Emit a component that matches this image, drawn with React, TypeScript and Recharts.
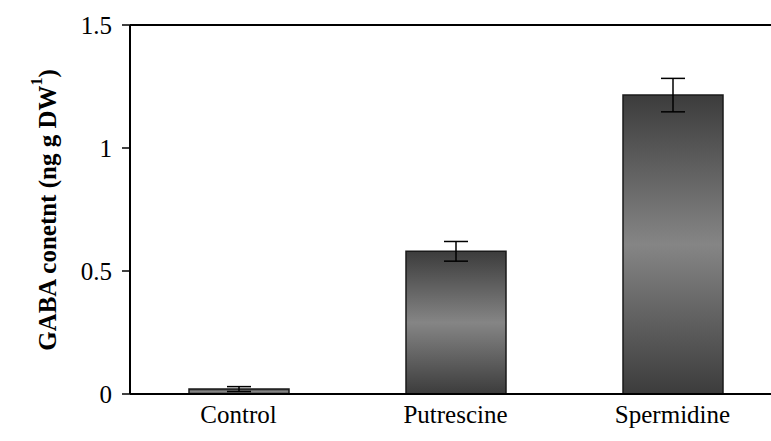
import React from 'react';
import { BarChart, Bar, XAxis, YAxis, ErrorBar, ReferenceLine } from 'recharts';

const categories = ['Control', 'Putrescine', 'Spermidine'];
const gabaValues = [0.02, 0.58, 1.215];
const gabaErrors = [0.01, 0.04, 0.068];
const yTicks = [0, 0.5, 1, 1.5];

const data = categories.map((name, i) => ({ name, value: gabaValues[i], err: gabaErrors[i] }));

const FONT = '"Liberation Serif", "Times New Roman", serif';

const YLabel = () => (
  <text
    x={47}
    y={210}
    transform="rotate(-90 47 210)"
    textAnchor="middle"
    dominantBaseline="central"
    fontFamily={FONT}
    fontWeight="bold"
    fontSize={25}
    fill="#000"
  >
    <tspan>GABA conetnt (ng g DW</tspan>
    <tspan fontSize={16} dy={-11}>1</tspan>
    <tspan dy={11}>)</tspan>
  </text>
);

export default function App() {
  return (
    <div style={{ position: 'absolute', left: 0, top: 0, width: 771, height: 441, overflow: 'hidden', background: '#fff' }}>
      <BarChart
        width={781}
        height={441}
        data={data}
        margin={{ top: 25, right: 0, bottom: 7, left: 0 }}
        barSize={100}
      >
        <defs>
          <linearGradient id="barGrad" x1="0" y1="0" x2="0" y2="1">
            <stop offset="0%" stopColor="#3c3c3c" />
            <stop offset="50%" stopColor="#858585" />
            <stop offset="100%" stopColor="#3c3c3c" />
          </linearGradient>
        </defs>
        <XAxis
          dataKey="name"
          height={40}
          tickLine={false}
          axisLine={{ stroke: '#000', strokeWidth: 2 }}
          tick={{ fontFamily: FONT, fontSize: 25, fill: '#000' }}
          tickMargin={5}
        />
        <YAxis
          width={130}
          domain={[0, 1.5]}
          ticks={yTicks}
          tickFormatter={(v: number) => String(v)}
          axisLine={{ stroke: '#000', strokeWidth: 2 }}
          tickLine={{ stroke: '#000', strokeWidth: 1.5 }}
          tickSize={8}
          tickMargin={10}
          tick={{ fontFamily: FONT, fontSize: 25, fill: '#000' }}
          label={{ content: () => <YLabel /> }}
        />
        <ReferenceLine y={1.5} stroke="#000" strokeWidth={2} ifOverflow="extendDomain" />
        <Bar dataKey="value" fill="url(#barGrad)" stroke="#1a1a1a" strokeWidth={1.5} isAnimationActive={false}>
          <ErrorBar dataKey="err" width={12} stroke="#000" strokeWidth={1.5} direction="y" />
        </Bar>
      </BarChart>
    </div>
  );
}
